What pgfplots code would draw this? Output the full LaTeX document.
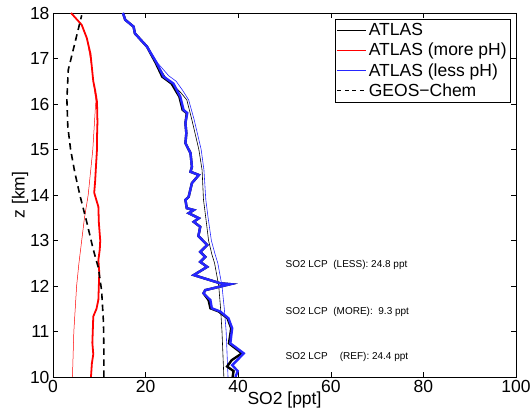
\documentclass[border=0pt]{standalone}
\usepackage{fontspec}
\setmainfont{Liberation Sans}
\usepackage{pgfplots}
\pgfplotsset{compat=1.18}
\definecolor{mblue}{rgb}{0.15,0.15,1}
\begin{document}
\begin{tikzpicture}
\begin{axis}[
  name=ax,
  scale only axis,
  width=463bp, height=364bp,
  xmin=0, xmax=100, ymin=10, ymax=18,
  xtick={0,20,...,100}, ytick={10,11,...,18},
  tick align=inside,
  major tick length=5bp,
  axis line style={line width=0.9pt},
  every tick/.style={black, line width=0.6pt},
  /pgf/number format/assume math mode=true,
  tick label style={font=\fontsize{17.5bp}{20bp}\selectfont},
  label style={font=\fontsize{17.5bp}{20bp}\selectfont},
  xlabel={SO2 [ppt]}, ylabel={z [km]},
  xlabel style={yshift=8bp},
  ylabel style={yshift=-5bp},
  legend style={at={(rel axis cs:0.989,0.984)}, anchor=north east,
    font=\fontsize{17.5bp}{20bp}\selectfont, draw=black, line width=0.6pt,
    inner xsep=2bp, inner ysep=2.5bp, row sep=2bp, cells={anchor=west}},
  legend cell align=left,
  legend image code/.code={\draw[#1] (0cm,0cm) -- (29bp,0cm);},
]
% thin red
\addplot[red, line width=0.5pt, forget plot] coordinates {
(4.2,10.0) (4.35,10.5) (4.5,11.0) (4.8,11.5) (5.1,12.0) (5.6,12.5) (6.2,13.0)
(6.8,13.5) (7.6,14.0) (8.1,14.5) (8.6,15.0) (8.9,15.5) (9.2,16.0) (9.3,16.05)
(8.7,16.5) (8.4,16.8) (7.3,17.45) (6.2,17.74) (3.9,18.0)};
% thick red
\addplot[red, line width=1.8pt, forget plot] coordinates {
(8.2,10.0) (8.4,10.3) (8.7,10.5) (8.5,10.75) (8.6,11.03) (8.7,11.33) (9.4,11.5)
(9.8,11.7) (9.9,12.0) (10.0,12.29) (9.8,12.57) (10.1,12.8) (10.2,13.0) (9.9,13.4)
(9.8,13.74) (8.9,14.05) (9.1,14.3) (9.3,14.66) (9.5,15.0) (9.5,15.25) (9.6,15.6)
(9.5,16.05) (9.1,16.3) (8.7,16.5) (8.4,16.8) (8.1,17.1) (7.3,17.45) (6.2,17.74) (3.9,18.0)};
% GEOS-Chem
\addplot[black, line width=1.6pt, dash pattern=on 6.5bp off 4.5bp, forget plot] coordinates {
(11.0,10.0) (11.0,10.5) (10.9,11.2) (10.5,11.9) (9.8,12.4) (8.7,12.8) (7.3,13.4)
(5.8,14.0) (4.7,14.5) (3.8,15.0) (3.2,15.5) (3.0,16.1) (3.3,16.75) (6.2,17.95)};
% thin black
\addplot[black, line width=0.6pt, forget plot] coordinates {
(36.9,10.0) (36.7,10.5) (36.5,11.0) (36.2,11.5) (35.8,12.0) (34.9,12.5) (34.3,12.7)
(33.6,13.0) (33.0,13.5) (32.5,13.9) (32.2,14.55) (31.5,15.0) (30.0,15.65) (28.9,16.09)
(27.6,16.25) (25.6,16.45) (24.2,16.6) (22.4,16.9) (20.3,17.26) (17.7,17.55) (17.4,17.7)
(15.6,17.85) (15.1,18.0)};
% thin blue
\addplot[mblue, line width=0.6pt, forget plot] coordinates {
(37.8,10.0) (37.6,10.5) (37.4,11.0) (37.0,11.5) (36.5,12.0) (35.6,12.5) (35.0,12.7)
(34.2,13.0) (33.5,13.5) (33.0,13.9) (32.6,14.55) (32.0,15.0) (30.5,15.65) (29.3,16.09)
(28.0,16.3) (26.6,16.5) (25.0,16.62) (22.6,16.9) (20.4,17.26) (17.8,17.55) (17.4,17.7)
(15.6,17.85) (15.1,18.0)};
% thick black
\addplot[black, line width=2.4pt, forget plot] coordinates {
(15.1,18.0) (15.6,17.85) (17.4,17.7) (17.7,17.55) (20.3,17.26) (22.2,16.9) (23.6,16.6)
(25.6,16.45) (27.3,16.16) (28.0,15.87) (28.9,15.8) (28.6,15.58) (28.8,15.36) (28.6,15.14)
(29.7,14.92) (30.0,14.62) (29.7,14.51) (31.5,14.44) (30.0,14.26) (29.3,13.96) (28.6,13.89)
(28.9,13.71) (30.4,13.67) (29.3,13.6) (31.5,13.49) (30.4,13.41) (31.8,13.3) (31.4,13.1)
(33.3,12.9) (31.8,12.75) (32.9,12.64) (31.8,12.53) (33.3,12.42) (30.4,12.24) (36.1,12.06)
(38.3,12.04) (32.9,11.91) (32.5,11.84) (33.6,11.69) (34.0,11.51) (35.8,11.44) (37.7,11.29)
(38.5,11.07) (38.0,10.74) (40.8,10.52) (38.6,10.37) (37.6,10.23) (39.0,10.13) (38.8,10.0)};
% thick blue
\addplot[mblue, line width=2.4pt, forget plot] coordinates {
(15.1,18.0) (15.6,17.85) (17.4,17.7) (17.7,17.55) (20.3,17.26) (22.4,16.9) (23.9,16.6)
(26.0,16.45) (27.5,16.16) (28.2,15.87) (29.0,15.8) (28.6,15.58) (28.8,15.36) (28.6,15.14)
(29.7,14.92) (30.0,14.62) (29.7,14.51) (31.5,14.44) (30.0,14.26) (29.3,13.96) (28.6,13.89)
(28.9,13.71) (30.4,13.67) (29.3,13.6) (31.5,13.49) (30.4,13.41) (31.8,13.3) (31.4,13.1)
(33.3,12.9) (31.8,12.75) (32.9,12.64) (31.8,12.53) (33.3,12.42) (30.4,12.24) (36.1,12.06)
(38.3,12.04) (32.9,11.91) (32.5,11.84) (34.0,11.69) (34.3,11.51) (36.1,11.44) (37.9,11.29)
(38.7,11.07) (38.3,10.74) (41.2,10.52) (39.8,10.37) (38.7,10.26) (39.9,10.13) (39.4,10.0)};
\addlegendimage{black, line width=0.8pt}\addlegendentry{ATLAS}
\addlegendimage{red, line width=0.8pt}\addlegendentry{ATLAS (more pH)}
\addlegendimage{mblue, line width=0.8pt}\addlegendentry{ATLAS (less pH)}
\addlegendimage{black, line width=0.8pt, dash pattern=on 4bp off 3.5bp}\addlegendentry{GEOS−Chem}
\node[anchor=west, inner sep=0pt, font=\fontsize{10bp}{12bp}\selectfont] at (axis cs:50.2,12.46) {SO2 LCP\ \ (LESS): 24.8 ppt};
\node[anchor=west, inner sep=0pt, font=\fontsize{10bp}{12bp}\selectfont] at (axis cs:50.2,11.43) {SO2 LCP\ \ (MORE):\ \ 9.3 ppt};
\node[anchor=west, inner sep=0pt, font=\fontsize{10bp}{12bp}\selectfont] at (axis cs:50.2,10.45) {SO2 LCP\hspace{12bp}(REF): 24.4 ppt};
\end{axis}
\pgfresetboundingbox
\path ([shift={(-53bp,-42bp)}]ax.south west) rectangle ([shift={(16bp,13bp)}]ax.north east);
\end{tikzpicture}
\end{document}
